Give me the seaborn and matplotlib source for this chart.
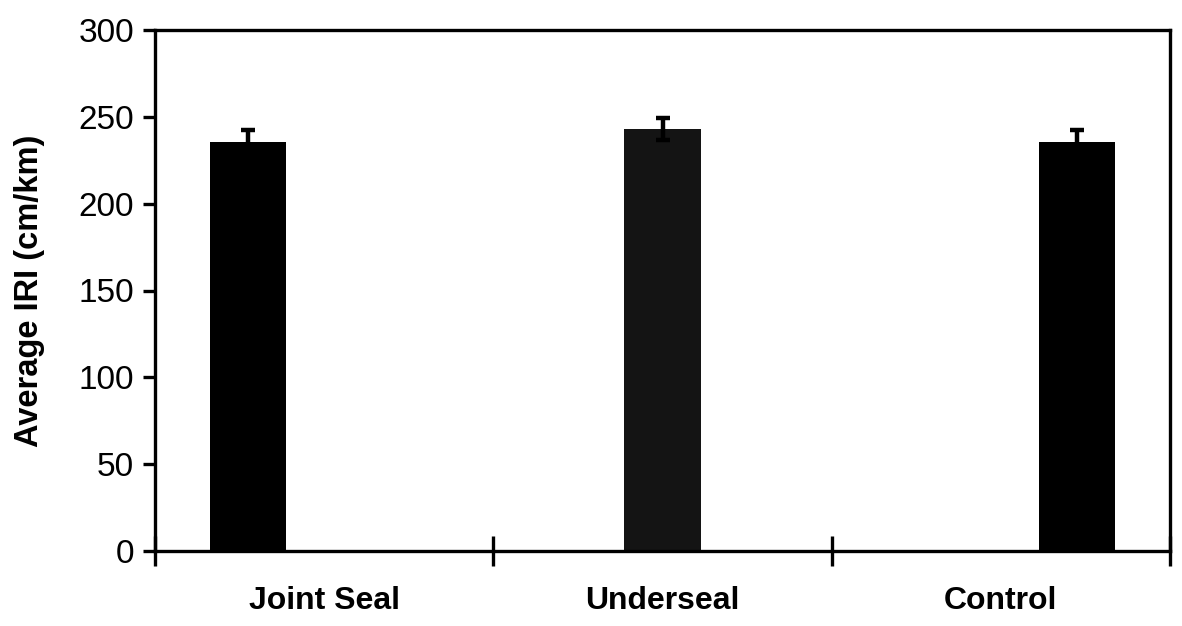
import matplotlib
matplotlib.use("Agg")
import matplotlib.pyplot as plt
import seaborn as sns
import pandas as pd
import numpy as np

categories = ["Joint Seal", "Underseal", "Control"]
series = ["Joint Seal", "Underseal", "Control"]
values = [235.5, 243.0, 235.5]
errors = [7.0, 6.5, 7.0]
y_ticks = [0, 50, 100, 150, 200, 250, 300]
bar_colors = ["#000000", "#141414", "#000000"]

sns.set_theme(style="ticks")
plt.rcParams["font.family"] = ["Liberation Sans", "DejaVu Sans"]
plt.rcParams["text.color"] = "black"
plt.rcParams["axes.labelcolor"] = "black"
plt.rcParams["xtick.color"] = "black"
plt.rcParams["ytick.color"] = "black"

df = pd.DataFrame({"Treatment": categories, "Series": series, "IRI": values})

fig = plt.figure(figsize=(11.82, 6.26), dpi=100)
ax = fig.add_axes([155 / 1182, 1 - 551 / 626, (1170 - 155) / 1182, (551 - 30) / 626])

sns.barplot(data=df, x="Treatment", y="IRI", hue="Series", order=categories,
            hue_order=series, palette=dict(zip(series, bar_colors)),
            width=0.675, gap=0, dodge=True, errorbar=None, legend=False,
            saturation=1, linewidth=0, ax=ax)

# error bars located from the drawn bars
bars = [p for p in ax.patches if p.get_height() > 0]
xs = [p.get_x() + p.get_width() / 2 for p in bars]
hs = [p.get_height() for p in bars]
order = np.argsort(xs)
xs = np.array(xs)[order]
hs = np.array(hs)[order]
ax.errorbar(xs, hs, yerr=[np.array(errors), np.array(errors)], fmt="none",
            ecolor="black", elinewidth=3.2, capsize=4.8, capthick=3.2, zorder=3)

ax.set_xlim(-0.5, 2.5)
ax.set_ylim(0, 300)
ax.set_yticks(y_ticks)
ax.set_yticklabels([str(t) for t in y_ticks], fontsize=24)
ax.set_xticks(range(len(categories)))
ax.set_xticklabels(categories, fontsize=23, fontweight="bold")
ax.set_xticks([-0.5, 0.5, 1.5, 2.5], minor=True)
ax.tick_params(axis="x", which="major", length=0, pad=25)
ax.tick_params(axis="x", which="minor", direction="inout", length=22, width=2.4, color="black")
ax.tick_params(axis="y", which="major", direction="out", length=9, width=2.4, pad=6, color="black")
ax.set_xlabel("")
ax.set_ylabel("Average IRI (cm/km)", fontsize=23.5, fontweight="bold", labelpad=24)
for s in ax.spines.values():
    s.set_visible(True)
    s.set_linewidth(2.4)
    s.set_color("black")

fig.savefig("out.png", dpi=100)
